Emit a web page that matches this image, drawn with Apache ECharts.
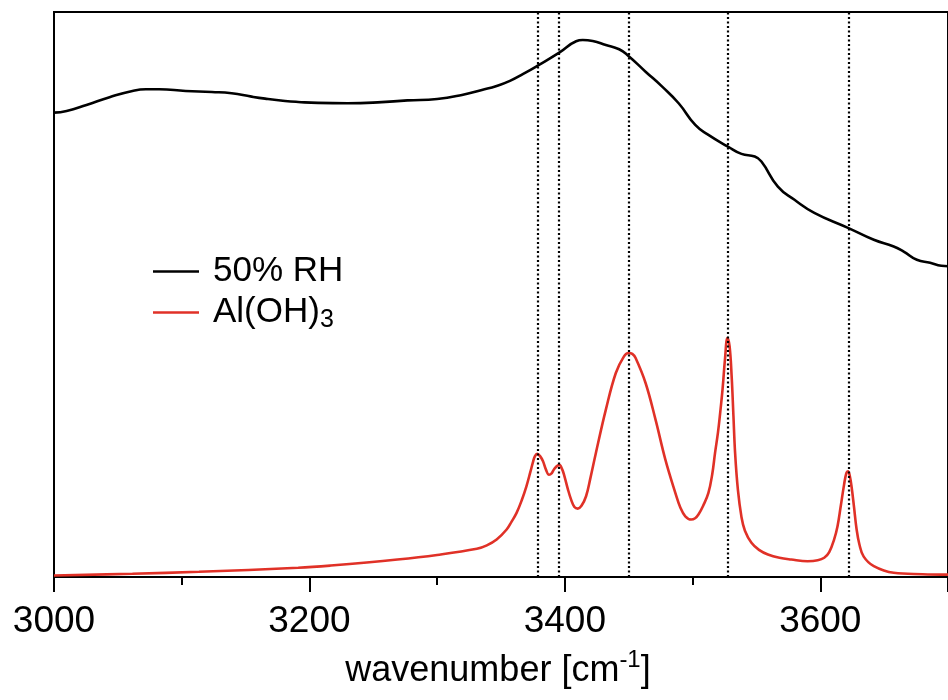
<!DOCTYPE html>
<html>
<head>
<meta charset="utf-8">
<script src="https://cdn.jsdelivr.net/npm/echarts@6/dist/echarts.min.js"></script>
<style>
html,body{margin:0;padding:0;background:#fff;}
#chart{width:948px;height:700px;}
</style>
</head>
<body>
<div id="chart"></div>
<script>
// 50% RH spectrum (wavenumber, relative absorbance 0-100)
var rhX = [3000,3009.9,3025.4,3043.5,3061.4,3072.0,3082.4,3103.1,3123.6,3139.1,3154.7,3165.3,3180.9,3191.2,3206.7,3230.0,3253.4,3276.7,3300.0,3319.4,3335.0,3346.6,3357.0,3367.4,3378.7,3395.6,3408.8,3414.0,3421.8,3432.1,3442.5,3449.8,3463.2,3476.2,3489.1,3502.1,3512.4,3527.7,3538.3,3548.7,3553.9,3566.8,3579.8,3595.3,3621.7,3641.9,3657.5,3665.3,3675.6,3686.0,3694.8,3700];
var rhY = [82.19,82.49,83.55,84.92,86.03,86.33,86.33,86.03,85.85,85.62,85.02,84.67,84.26,84.08,83.91,83.86,84.0,84.35,84.61,85.32,86.21,86.91,87.80,89.04,90.50,92.80,94.82,95.05,94.87,94.16,93.40,92.22,89.44,86.79,83.85,80.02,78.25,76.18,74.89,74.41,73.53,69.11,66.76,64.46,61.80,59.68,58.50,57.61,56.15,55.61,55.08,55.0];

// Al(OH)3 spectrum
var aohX = [3000,3061.4,3113.5,3191.2,3216.8,3268.9,3300.0,3331.1,3338.9,3346.6,3354.4,3358.3,3362.2,3366.1,3369.9,3373.0,3375.2,3376.6,3378.3,3380.6,3382.9,3385.2,3387.6,3389.8,3391.9,3395.6,3398.0,3399.7,3402.3,3404.9,3407.5,3410.1,3413.0,3416.6,3420.0,3424.3,3432.1,3439.9,3446.3,3449.8,3452.8,3455.4,3463.2,3471.0,3478.7,3486.5,3490.4,3494.3,3498.9,3502.0,3504.6,3508.3,3512.4,3515.4,3517.6,3519.9,3521.5,3523.5,3525.4,3527.3,3529.0,3530.6,3532.0,3533.3,3535.5,3538.3,3541.0,3546.1,3552.0,3559.0,3568.0,3577.2,3590.1,3598.0,3603.1,3607.0,3610.8,3613.5,3616.0,3618.6,3620.4,3621.7,3623.0,3624.6,3626.4,3628.4,3630.6,3634.0,3641.9,3657.5,3680.0,3700];
var aohY = [0.27,0.57,0.92,1.63,2.03,3.09,3.9,4.99,5.6,6.63,8.4,9.8,11.35,13.5,16.06,18.6,20.48,21.4,21.79,21.4,20.48,19.0,18.1,18.4,19.2,19.84,19.0,17.82,15.6,13.70,12.4,12.11,12.6,14.29,17.5,21.96,29.62,36.11,39.05,39.65,39.5,38.76,34.34,27.85,20.78,14.89,12.3,10.75,10.17,10.4,11.05,12.6,14.89,18.2,21.96,25.6,28.8,33.3,38.6,42.3,40.8,35.5,28.5,21.96,15.4,10.6,8.2,6.05,4.8,3.98,3.4,3.09,2.79,2.95,3.40,4.4,6.63,9.0,12.52,16.3,18.4,18.71,18.0,15.8,12.4,8.5,5.8,3.6,1.91,0.74,0.5,0.42];

// band positions (dotted guide lines)
var bandX = [3378.7,3395.6,3449.8,3527.7,3621.9];

var seriesNames = ['50% RH','Al(OH)3'];

function pairs(xs, ys){ return xs.map(function(x,i){ return [x, ys[i]]; }); }

var FONT = 'Liberation Sans, Arial, Helvetica, sans-serif';
var chart = echarts.init(document.getElementById('chart'), null, {renderer:'canvas'});
chart.setOption({
  animation:false,
  backgroundColor:'#fff',
  grid:{left:54, right:-7, top:12, bottom:123, show:true, borderColor:'#000', borderWidth:2, backgroundColor:'transparent'},
  legend:{
    orient:'vertical', left:153, top:251, padding:0, itemWidth:46, itemHeight:2.5, itemGap:0, icon:'rect',
    data:seriesNames,
    textStyle:{fontFamily:FONT, fontSize:35, color:'#000', lineHeight:41, padding:[0,0,0,9],
      rich:{sub:{fontFamily:FONT, fontSize:25, color:'#000', lineHeight:41, padding:[16,0,0,0]}}},
    formatter:function(n){ return n==='Al(OH)3' ? 'Al(OH){sub|3}' : n; }
  },
  xAxis:{
    type:'value', min:3000, max:3700, interval:200,
    axisLine:{show:true, onZero:false, lineStyle:{color:'#000', width:2}},
    axisTick:{show:true, inside:false, length:15, lineStyle:{color:'#000', width:2}},
    minorTick:{show:true, splitNumber:2, length:8, lineStyle:{color:'#000', width:2}},
    splitLine:{show:false},
    axisLabel:{fontFamily:FONT, fontSize:37, color:'#000', margin:26, showMaxLabel:false,
      formatter:function(v){ return (v%200===0 && v<3700) ? String(v) : ''; }},
    name:'wavenumber [cm{sup|-1}]', nameLocation:'middle', nameGap:73,
    nameTextStyle:{fontFamily:FONT, fontSize:36, color:'#000', padding:[0,6,0,0], lineHeight:42,
      rich:{sup:{fontFamily:FONT, fontSize:24, color:'#000', lineHeight:42, padding:[0,0,22,0]}}}
  },
  yAxis:{
    type:'value', min:0, max:100,
    axisLine:{show:true, lineStyle:{color:'#000', width:2}},
    axisTick:{show:false}, axisLabel:{show:false}, splitLine:{show:false}
  },
  series:[
    {name:seriesNames[0], type:'line', data:pairs(rhX, rhY), showSymbol:false, symbol:'none',
      smooth:0.5, lineStyle:{color:'#000', width:2.6}, itemStyle:{color:'#000'}, z:3,
      markLine:{silent:true, symbol:['none','none'], label:{show:false},
        lineStyle:{color:'#000', type:[2,2.5], width:2.2},
        data:bandX.map(function(v){ return {xAxis:v}; })}},
    {name:seriesNames[1], type:'line', data:pairs(aohX, aohY), showSymbol:false, symbol:'none',
      smooth:0.4, lineStyle:{color:'#e03127', width:2.6}, itemStyle:{color:'#e03127'}, z:4}
  ]
});
</script>
</body>
</html>
